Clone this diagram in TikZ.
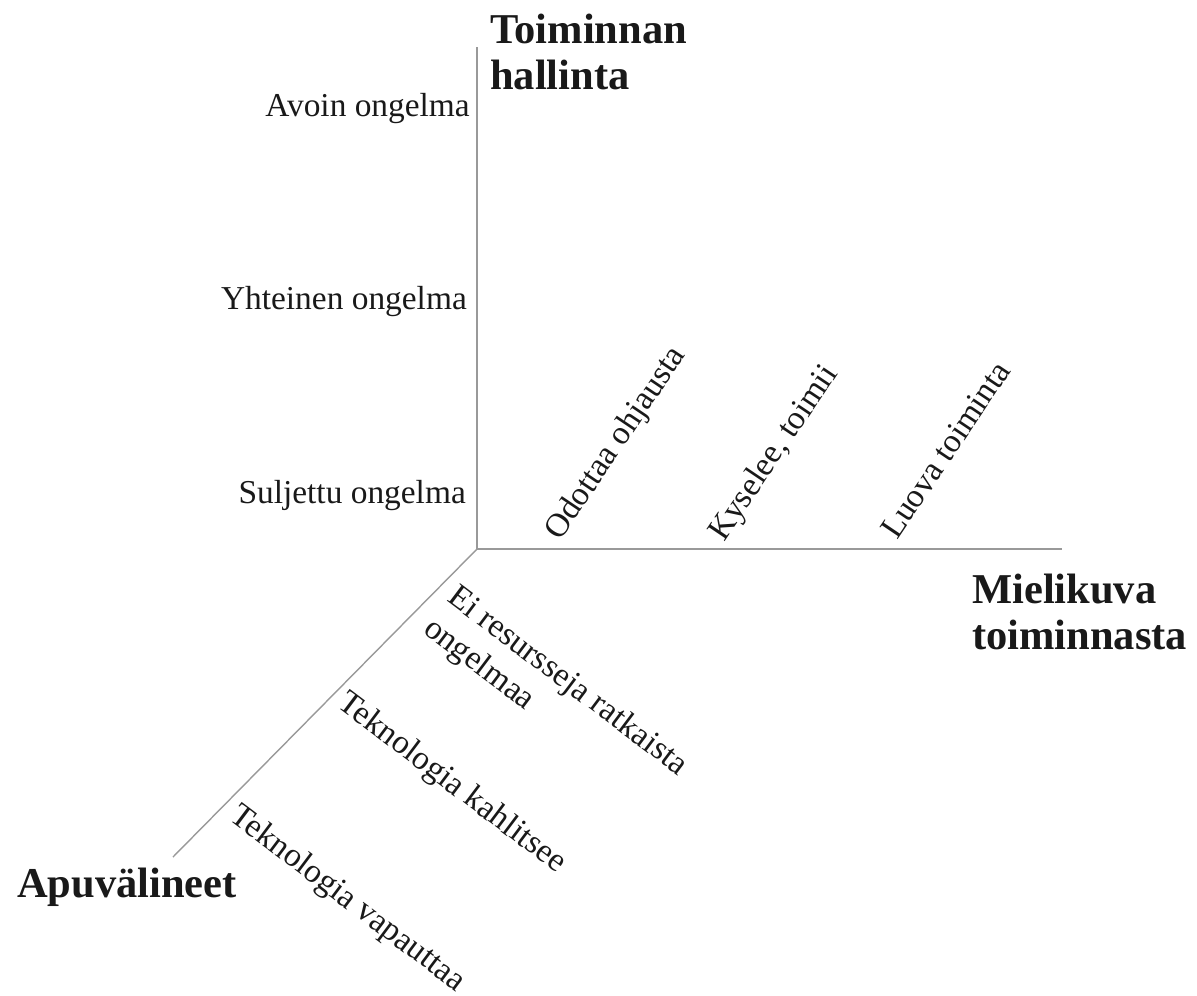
\documentclass[tikz,border=0pt]{standalone}
\usepackage{fontspec}
\setmainfont{Liberation Serif}
\begin{document}
\begin{tikzpicture}[x=1pt,y=-1pt,
  axis/.style={draw=black!40, line width=1.4pt},
  lbl/.style={inner sep=0pt, text=black!90, font=\fontsize{33.4}{40}\selectfont},
  axistitle/.style={inner sep=0pt, align=left, text=black!90, font=\fontsize{42.5}{46}\selectfont\bfseries},
  risetext/.style={lbl, anchor=base west, rotate=56},
  droptext/.style={lbl, anchor=north west, rotate=-37, align=left}]
  \useasboundingbox (0,0) rectangle (1197,996);

  % axes
  \coordinate (O) at (477,549);
  \coordinate (ytop) at (477,47);
  \coordinate (xend) at (1062,549);
  \coordinate (zend) at (173,857);
  \draw[axis] (ytop) -- (O) -- (xend);
  \draw[axis] (O) -- (zend);

  % axis titles
  \node[axistitle, anchor=north west] (ctrl) at (490,14) {Toiminnan\\hallinta};
  \node[axistitle, anchor=north west] (image) at (972,574) {Mielikuva\\toiminnasta};
  \node[axistitle, anchor=base west] (tools) at (17,897) {Apuvälineet};

  % levels on the vertical axis
  \node[lbl, anchor=base east] (open) at (470,116) {Avoin ongelma};
  \node[lbl, anchor=base east] (shared) at (467,309) {Yhteinen ongelma};
  \node[lbl, anchor=base east] (closed) at (466,503) {Suljettu ongelma};

  % levels on the horizontal axis
  \node[risetext] (waits) at (560,542) {Odottaa ohjausta};
  \node[risetext] (asks) at (724,543) {Kyselee, toimii};
  \node[risetext] (creative) at (897,541) {Luova toiminta};

  % levels on the diagonal axis
  \node[droptext] (nores) at (460,582) {Ei resursseja ratkaista\\ongelmaa};
  \node[droptext] (binds) at (350,688) {Teknologia kahlitsee};
  \node[droptext] (frees) at (242,801) {Teknologia vapauttaa};
\end{tikzpicture}
\end{document}
